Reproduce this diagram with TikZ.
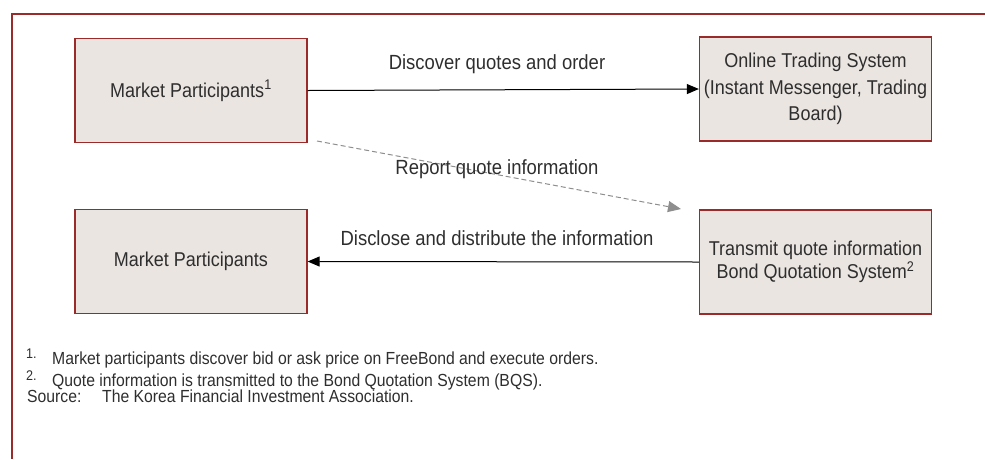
\documentclass[tikz,border=0pt]{standalone}
\usepackage{fontspec}
\setmainfont{Liberation Sans}[FakeStretch=0.9]
\usetikzlibrary{arrows.meta}
\definecolor{frameRed}{HTML}{9B2A2A}
\definecolor{boxFill}{HTML}{EAE5E1}
\definecolor{txt}{HTML}{2E2E2E}
\definecolor{dashGray}{HTML}{8E8E8E}
\tikzset{
  frameline/.style={draw=frameRed, line width=1.3pt},
  bbox/.style={draw=frameRed, fill=boxFill, line width=1.3pt, minimum width=232pt, minimum height=104pt, align=center, text=txt, font=\fontsize{20}{26.5}\selectfont, inner sep=0pt},
  lbl/.style={text=txt, font=\fontsize{20.5}{24}\selectfont, inner sep=0pt},
  solidarrow/.style={draw=black, line width=1pt, -{Triangle[length=12pt,width=10pt]}},
  dasharrow/.style={draw=dashGray, line width=1pt, dash pattern=on 5pt off 3pt, -{Triangle[length=13pt,width=11pt]}},
  fnote/.style={text=txt, font=\fontsize{17.5}{20}\selectfont, inner sep=0pt, anchor=base west},
  fmark/.style={text=txt, font=\fontsize{14}{15}\selectfont, inner sep=0pt, anchor=base west}
}
\begin{document}
\begin{tikzpicture}[x=1pt,y=-1pt]
\useasboundingbox (0,0) rectangle (985,459);
\draw[frameline] (985,14) -- (12,14) -- (12,459);
\node[bbox] (mp1) at (191,90.5) {Market Participants\textsuperscript{1}};
\node[bbox] (ots) at (815.5,89) {Online Trading System\\(Instant Messenger, Trading\\Board)};
\node[bbox] (mp2) at (191,261.5) {Market Participants};
\node[bbox, font=\fontsize{20}{23.5}\selectfont] (bqs) at (815.5,262) {Transmit quote information\\Bond Quotation System\textsuperscript{2}};
\draw[solidarrow] (mp1.east) -- (ots.west);
\node[lbl] (l1) at (497,64) {Discover quotes and order};
\coordinate (ds) at (317,141);
\coordinate (de) at (681,209);
\draw[dasharrow] (ds) -- (de);
\node[lbl] (l2) at (497,169) {Report quote information};
\draw[solidarrow] (bqs.west) -- (mp2.east);
\node[lbl] (l3) at (497,238) {Disclose and distribute the information};
\node[fmark] (f1n) at (26,358) {1.};
\node[fmark] (f2n) at (26,380) {2.};
\node[fnote] (f1) at (52,364) {Market participants discover bid or ask price on FreeBond and execute orders.};
\node[fnote] (f2) at (52,386) {Quote information is transmitted to the Bond Quotation System (BQS).};
\node[fnote] (src) at (27,402) {Source:};
\node[fnote] (srct) at (102,402) {The Korea Financial Investment Association.};
\end{tikzpicture}
\end{document}
